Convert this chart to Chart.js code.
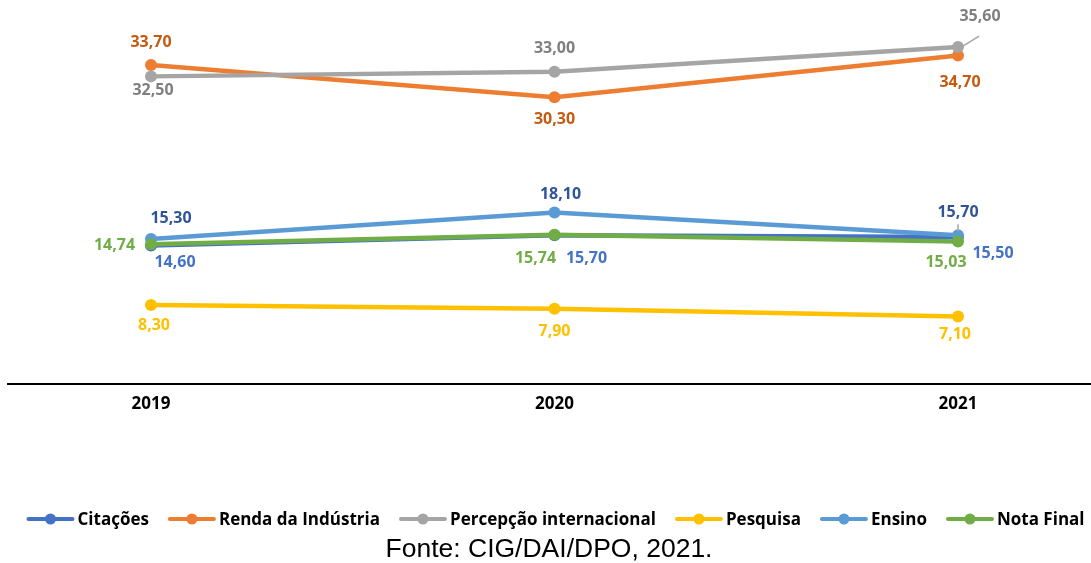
<!DOCTYPE html>
<html>
<head>
<meta charset="utf-8">
<script src="https://cdn.jsdelivr.net/npm/chart.js@4/dist/chart.umd.min.js"></script>
<style>
  html, body { margin: 0; padding: 0; background: #fff; }
  #wrap { position: relative; width: 1091px; height: 563px; }
  #fonte {
    position: absolute; left: 0; width: 1098px; top: 535px;
    text-align: center; font: 26.5px "Liberation Sans", Arial, sans-serif;
    line-height: 26px; color: #000;
  }
</style>
</head>
<body>
<div id="wrap">
  <canvas id="chart"></canvas>
  <div id="fonte">Fonte: CIG/DAI/DPO, 2021.</div>
</div>
<script>
// data
const years = [2019, 2020, 2021];
const seriesNames = ["Citações", "Renda da Indústria", "Percepção internacional", "Pesquisa", "Ensino", "Nota Final"];
const citacoes = [14.60, 15.70, 15.50];
const rendaIndustria = [33.70, 30.30, 34.70];
const percepcao = [32.50, 33.00, 35.60];
const pesquisa = [8.30, 7.90, 7.10];
const ensino = [15.30, 18.10, 15.70];
const notaFinal = [14.74, 15.74, 15.03];

// styling
const lineColors = ["#4472C4", "#ED7D31", "#A5A5A5", "#FFC000", "#5B9BD5", "#70AD47"];
const labelColors = ["#4472C4", "#C55A11", "#7F7F7F", "#FFC000", "#2F5597", "#70AD47"];
// label offsets from each point [dx, dy]
const labelOffsets = [
  [[24, 15.5], [32, 22.5], [35, 15.6]],
  [[0, -24], [0, 21], [2, 25.5]],
  [[2, 12.7], [0, -24.5], [22, -32]],
  [[3, 19], [0, 21], [-3, 17]],
  [[20, -21.3], [6, -19], [0, -24]],
  [[-36.5, 0], [-19, 23], [-12, 19.5]]
];
// leader lines [series, point, x1, y1, x2, y2] relative to the point
const leaders = [
  [2, 2, 5, -1, 21, -11],
  [4, 2, 0, -11, 0, -4]
];

const allValues = [citacoes, rendaIndustria, percepcao, pesquisa, ensino, notaFinal];
const fmt = v => v.toFixed(2).replace(".", ",");

const datasets = seriesNames.map((name, i) => ({
  label: name,
  data: years.map((y, j) => ({ x: y, y: allValues[i][j] })),
  borderColor: lineColors[i],
  backgroundColor: lineColors[i],
  pointBackgroundColor: lineColors[i],
  pointBorderWidth: 0,
  pointRadius: 6,
  borderWidth: 4.5,
  tension: 0,
  order: seriesNames.length - i   // later series on top, like Excel
}));

// data labels
const labelPlugin = {
  id: "valueLabels",
  afterDatasetsDraw(chart) {
    const ctx = chart.ctx;
    ctx.save();
    leaders.forEach(([si, pi, x1, y1, x2, y2]) => {
      const el = chart.getDatasetMeta(si).data[pi];
      ctx.strokeStyle = "#A6A6A6";
      ctx.lineWidth = 1.5;
      ctx.beginPath();
      ctx.moveTo(el.x + x1, el.y + y1);
      ctx.lineTo(el.x + x2, el.y + y2);
      ctx.stroke();
    });
    ctx.font = "bold 16px 'Open Sans'";
    ctx.textAlign = "center";
    ctx.textBaseline = "alphabetic";
    chart.data.datasets.forEach((ds, i) => {
      chart.getDatasetMeta(i).data.forEach((el, j) => {
        const [dx, dy] = labelOffsets[i][j];
        ctx.fillStyle = labelColors[i];
        ctx.fillText(fmt(allValues[i][j]), el.x + dx, el.y + dy + 5.7);
      });
    });
    ctx.restore();
  }
};

// Excel style legend: line with a dot, then the name
const legendPlugin = {
  id: "excelLegend",
  afterDraw(chart) {
    const ctx = chart.ctx;
    const markW = 48, gapText = 3, gapItem = 19, cy = 519;
    ctx.save();
    ctx.font = "bold 17px 'Open Sans'";
    const widths = seriesNames.map(n => markW + gapText + ctx.measureText(n).width);
    const total = widths.reduce((a, b) => a + b, 0) + gapItem * (widths.length - 1);
    let x = 555.5 - total / 2;
    seriesNames.forEach((name, i) => {
      ctx.strokeStyle = lineColors[i];
      ctx.lineWidth = 4;
      ctx.lineCap = "round";
      ctx.beginPath();
      ctx.moveTo(x + 2, cy);
      ctx.lineTo(x + markW - 2, cy);
      ctx.stroke();
      ctx.fillStyle = lineColors[i];
      ctx.beginPath();
      ctx.arc(x + markW / 2, cy, 5.5, 0, Math.PI * 2);
      ctx.fill();
      ctx.fillStyle = "#000";
      ctx.textAlign = "left";
      ctx.textBaseline = "alphabetic";
      ctx.fillText(name, x + markW + gapText, cy + 6);
      x += widths[i] + gapItem;
    });
    ctx.restore();
  }
};

new Chart(document.getElementById("chart"), {
  type: "line",
  data: { datasets },
  options: {
    responsive: true,
    maintainAspectRatio: false,
    animation: false,
    events: [],
    layout: { autoPadding: false, padding: { top: 5.5, left: 8, right: 1, bottom: 0 } },
    scales: {
      x: {
        type: "linear",
        min: 2018.6456,
        max: 2021.3271,
        grid: { display: false, drawTicks: false },
        border: { display: true, color: "#000", width: 2 },
        afterBuildTicks: s => { s.ticks = years.map(v => ({ value: v })); },
        afterFit: s => { s.height = 179.5; },
        ticks: {
          padding: 10,
          color: "#000",
          font: { family: "'Open Sans'", size: 17, weight: "bold" },
          callback: v => String(v)
        }
      },
      y: {
        display: false,
        min: 0,
        max: 40
      }
    },
    plugins: {
      legend: { display: false },
      tooltip: { enabled: false }
    }
  },
  plugins: [labelPlugin, legendPlugin]
});
</script>
</body>
</html>
